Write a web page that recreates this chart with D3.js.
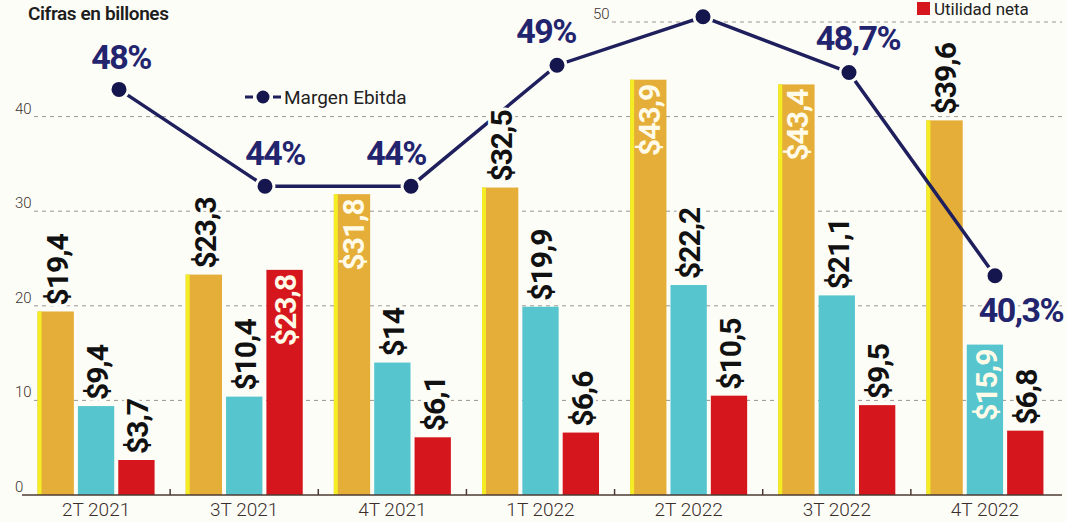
<meta charset="utf-8">
<script src="https://d3js.org/d3.v7.min.js"></script>
<style>
  body { margin: 0; background: #fdfdf8; }
  svg { display: block; font-family: Roboto, "Liberation Sans", sans-serif; }
</style>
<svg width="1066" height="522"></svg>
<script>
// datos (cifras en billones)
var categories = ["2T 2021", "3T 2021", "4T 2021", "1T 2022", "2T 2022", "3T 2022", "4T 2022"];
var seriesNames = ["Ingresos", "Ebitda", "Utilidad neta"];
var ingresos = [19.4, 23.3, 31.8, 32.5, 43.9, 43.4, 39.6];
var ebitda = [9.4, 10.4, 14, 19.9, 22.2, 21.1, 15.9];
var utilidad = [3.7, 23.8, 6.1, 6.6, 10.5, 9.5, 6.8];
var margen = [48, 44, 44, 49, 51, 48.7, 40.3];
var margenLabels = ["48%", "44%", "44%", "49%", "", "48,7%", "40,3%"];
var yTicks = [0, 10, 20, 30, 40, 50];

// etiquetas que van dentro de la barra
var insideLabels = ["Ingresos|2", "Ingresos|4", "Ingresos|5", "Ebitda|6", "Utilidad neta|1"];
// ajuste de las etiquetas de porcentaje
var pctDx = [2, 10, -15, -11, 0, 9, 26],
    pctDy = [-20, -21, -21, -22, 0, -22, 46];

var svg = d3.select("svg"),
    width = +svg.attr("width"),
    height = +svg.attr("height");

var colors = d3.scaleOrdinal().domain(seriesNames).range(["#e5ae38", "#56c5cd", "#d5161d"]);

var x = d3.scaleBand()
    .domain(categories)
    .range([22, 1059])
    .paddingInner(0.21)
    .paddingOuter(0.105);

var xs = d3.scaleBand()
    .domain(seriesNames)
    .range([0, x.bandwidth()])
    .paddingInner(0.1);

var y = d3.scaleLinear().domain([0, 50]).range([495, 22]);

var xm = d3.scalePoint().domain(categories).range([119, 995]);
var ym = d3.scaleLinear().domain([40, 50]).range([283, 41]);

var bars = [];
categories.forEach(function(c, i) {
    [ingresos, ebitda, utilidad].forEach(function(arr, j) {
        bars.push({cat: c, i: i, serie: seriesNames[j], value: arr[i]});
    });
});

function isInside(d) { return insideLabels.indexOf(d.serie + "|" + d.i) >= 0; }

// titulo
svg.append("text")
    .attr("x", 28).attr("y", 20)
    .attr("font-size", "19px")
    .attr("font-weight", 600)
    .attr("letter-spacing", "-0.4px")
    .attr("fill", "#1d1d1d")
    .text("Cifras en billones");

// leyenda utilidad neta (arriba a la derecha)
svg.append("rect")
    .attr("x", 917).attr("y", 2).attr("width", 13).attr("height", 13)
    .attr("fill", colors("Utilidad neta"));
svg.append("text")
    .attr("x", 934).attr("y", 15)
    .attr("font-size", "17px")
    .attr("fill", "#222")
    .text("Utilidad neta");

// rejilla
var grid = svg.append("g");
grid.selectAll("line")
    .data(yTicks.filter(function(d) { return d > 0; }))
    .enter().append("line")
    .attr("x1", function(d) { return d == 50 ? 612 : 34; })
    .attr("x2", 1062)
    .attr("y1", function(d) { return y(d); })
    .attr("y2", function(d) { return y(d); })
    .attr("stroke", "#9a9590")
    .attr("stroke-width", 1)
    .attr("stroke-dasharray", "4,4");

grid.selectAll("text")
    .data(yTicks)
    .enter().append("text")
    .attr("x", function(d) { return d == 50 ? 593 : 15; })
    .attr("y", function(d) { return y(d) - 3; })
    .attr("font-size", "15px")
    .attr("font-weight", 300)
    .attr("fill", "#3c3430")
    .text(function(d) { return d; });

// barras
svg.append("g")
    .selectAll("rect")
    .data(bars)
    .enter().append("rect")
    .attr("x", function(d) { return x(d.cat) + xs(d.serie); })
    .attr("y", function(d) { return y(d.value); })
    .attr("width", xs.bandwidth())
    .attr("height", function(d) { return y(0) - y(d.value); })
    .attr("fill", function(d) { return colors(d.serie); });

// borde amarillo de las barras de ingresos
svg.append("g")
    .selectAll("rect")
    .data(bars.filter(function(d) { return d.serie == "Ingresos"; }))
    .enter().append("rect")
    .attr("x", function(d) { return x(d.cat) + xs(d.serie); })
    .attr("y", function(d) { return y(d.value); })
    .attr("width", 4)
    .attr("height", function(d) { return y(0) - y(d.value); })
    .attr("fill", "#f4ec24");

// eje x
var axis = svg.append("g")
    .attr("transform", "translate(0," + y(0) + ")");
axis.call(d3.axisBottom(x).tickSize(0).tickPadding(8))
    .select(".domain").remove();
axis.selectAll("text")
    .attr("font-size", "19px")
    .attr("font-weight", 300)
    .attr("font-family", "Roboto, sans-serif")
    .attr("fill", "#3a2e2b");
axis.append("line")
    .attr("x1", 22).attr("x2", 1062)
    .attr("stroke", "#4a3a33").attr("stroke-width", 1.5);
axis.selectAll(".sep")
    .data(categories.slice(1))
    .enter().append("line")
    .attr("class", "sep")
    .attr("x1", function(d) { return x(d) - x.step() * x.paddingInner() / 2; })
    .attr("x2", function(d) { return x(d) - x.step() * x.paddingInner() / 2; })
    .attr("y1", 0).attr("y2", -6)
    .attr("stroke", "#4a3a33").attr("stroke-width", 1.5);

// linea margen ebitda
var line = d3.line()
    .x(function(d, i) { return xm(categories[i]); })
    .y(function(d) { return ym(d); });

svg.append("path")
    .datum(margen)
    .attr("d", line)
    .attr("fill", "none")
    .attr("stroke", "#1e1f5c")
    .attr("stroke-width", 3.5);

svg.append("g")
    .selectAll("circle")
    .data(margen)
    .enter().append("circle")
    .attr("cx", function(d, i) { return xm(categories[i]); })
    .attr("cy", function(d) { return ym(d); })
    .attr("r", 9)
    .attr("fill", "#15164d")
    .attr("stroke", "#fdfdf8")
    .attr("stroke-width", 3);

// leyenda margen
var lg = svg.append("g").attr("transform", "translate(245,97)");
lg.append("line").attr("x1", 0).attr("x2", 36)
    .attr("stroke", "#1e1f5c").attr("stroke-width", 3)
    .attr("stroke-dasharray", "8,20");
lg.append("circle").attr("cx", 18).attr("r", 6.5).attr("fill", "#15164d");
lg.append("text")
    .attr("x", 39).attr("y", 7)
    .attr("font-size", "19px")
    .attr("fill", "#222")
    .text("Margen Ebitda");

// etiquetas de barras
function fmt(v) { return "$" + String(v).replace(".", ","); }

svg.append("g")
    .selectAll("text")
    .data(bars)
    .enter().append("text")
    .attr("transform", function(d) {
        var cx = x(d.cat) + xs(d.serie) + xs.bandwidth() / 2 + 1;
        var cy = isInside(d) ? y(d.value) + 5 : y(d.value) - 6;
        return "translate(" + cx + "," + cy + ") rotate(-90)";
    })
    .attr("text-anchor", function(d) { return isInside(d) ? "end" : "start"; })
    .attr("dy", "0.36em")
    .attr("font-size", "30px")
    .attr("font-weight", 700)
    .attr("letter-spacing", "-1px")
    .attr("fill", function(d) { return isInside(d) ? "#fffbe8" : "#111"; })
    .attr("stroke", function(d) { return isInside(d) ? "none" : "#fdfdf8"; })
    .attr("stroke-width", 6)
    .attr("paint-order", "stroke")
    .text(function(d) { return fmt(d.value); });

// etiquetas de porcentaje
svg.append("g")
    .selectAll("text")
    .data(margen)
    .enter().append("text")
    .attr("x", function(d, i) { return xm(categories[i]) + pctDx[i]; })
    .attr("y", function(d, i) { return ym(d) + pctDy[i]; })
    .attr("text-anchor", "middle")
    .attr("font-size", "34px")
    .attr("font-weight", 700)
    .attr("letter-spacing", "-1.5px")
    .attr("fill", "#23246e")
    .attr("stroke", "#fdfdf8")
    .attr("stroke-width", 5)
    .attr("paint-order", "stroke")
    .text(function(d, i) { return margenLabels[i]; });
</script>
